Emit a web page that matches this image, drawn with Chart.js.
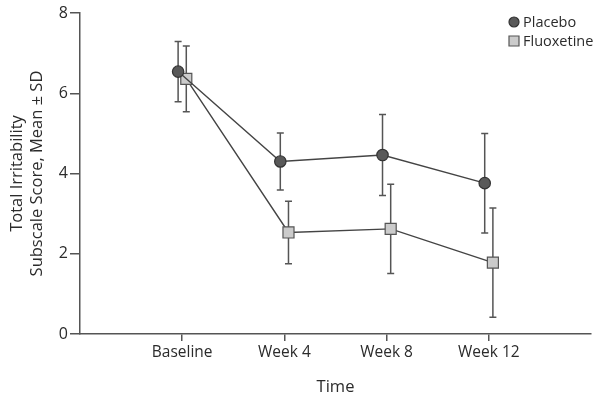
<!DOCTYPE html>
<html>
<head>
<meta charset="utf-8">
<script src="https://cdn.jsdelivr.net/npm/chart.js@4.4.0/dist/chart.umd.min.js"></script>
<style>
html,body{margin:0;padding:0;background:#fff;}
#wrap{width:600px;height:401px;position:relative;}
</style>
</head>
<body>
<div id="wrap"><canvas id="c"></canvas></div>
<script>
const categories = ['Baseline', 'Week 4', 'Week 8', 'Week 12'];
const placeboMean = [6.54, 4.30, 4.46, 3.76];
const placeboSD = [0.75, 0.71, 1.01, 1.24];
const fluoxetineMean = [6.36, 2.53, 2.62, 1.78];
const fluoxetineSD = [0.82, 0.78, 1.11, 1.36];
const yTicks = [0, 2, 4, 6, 8];
const seriesNames = ['Placebo', 'Fluoxetine'];

const FONT = '"Open Sans", "DejaVu Sans", sans-serif';
const TXT = '#2b2b2b';
const AX = '#555';
const SHIFT = 0.04;

function pts(means, dx) {
  return means.map((m, i) => ({ x: i + 1 + dx, y: m }));
}

const errorBars = {
  id: 'errorBars',
  beforeDatasetsDraw(chart) {
    const ctx = chart.ctx;
    const ys = chart.scales.y;
    chart.data.datasets.forEach((ds, di) => {
      const meta = chart.getDatasetMeta(di);
      ctx.save();
      ctx.strokeStyle = AX;
      ctx.lineWidth = 1.5;
      meta.data.forEach((el, i) => {
        const m = ds.data[i].y, s = ds.sd[i];
        const x = el.x;
        const yt = ys.getPixelForValue(m + s);
        const yb = ys.getPixelForValue(m - s);
        ctx.beginPath();
        ctx.moveTo(x, yt); ctx.lineTo(x, yb);
        ctx.moveTo(x - 3.5, yt); ctx.lineTo(x + 3.5, yt);
        ctx.moveTo(x - 3.5, yb); ctx.lineTo(x + 3.5, yb);
        ctx.stroke();
      });
      ctx.restore();
    });
  }
};

const customLegend = {
  id: 'customLegend',
  afterDraw(chart) {
    const ctx = chart.ctx;
    ctx.save();
    ctx.font = '14.5px ' + FONT;
    ctx.fillStyle = TXT;
    ctx.textBaseline = 'middle';
    ctx.textAlign = 'left';
    const rows = [22, 41];
    chart.data.datasets.forEach((ds, i) => {
      const y = rows[i], x = 514;
      ctx.beginPath();
      if (ds.pointStyle === 'circle') {
        ctx.arc(x, y, 5, 0, Math.PI * 2);
      } else {
        ctx.rect(x - 5, y - 5, 10, 10);
      }
      ctx.fillStyle = ds.pointBackgroundColor;
      ctx.fill();
      ctx.strokeStyle = ds.pointBorderColor;
      ctx.lineWidth = 1.2;
      ctx.stroke();
      ctx.fillStyle = TXT;
      ctx.fillText(ds.label, 523, y + 1);
    });
    ctx.restore();
  }
};

new Chart(document.getElementById('c'), {
  type: 'line',
  data: {
    datasets: [
      {
        label: seriesNames[0],
        data: pts(placeboMean, -SHIFT),
        sd: placeboSD,
        borderColor: '#444',
        borderWidth: 1.4,
        pointStyle: 'circle',
        pointRadius: 5.7,
        pointBackgroundColor: '#595959',
        pointBorderColor: '#333',
        pointBorderWidth: 1.2
      },
      {
        label: seriesNames[1],
        data: pts(fluoxetineMean, SHIFT),
        sd: fluoxetineSD,
        borderColor: '#444',
        borderWidth: 1.4,
        pointStyle: 'rect',
        pointRadius: 7.8,
        pointBackgroundColor: '#cbcbcb',
        pointBorderColor: '#555',
        pointBorderWidth: 1.2
      }
    ]
  },
  options: {
    responsive: true,
    maintainAspectRatio: false,
    animation: false,
    layout: { padding: { top: 13, right: 7, left: 0, bottom: 0 } },
    plugins: { legend: { display: false }, tooltip: { enabled: false } },
    scales: {
      x: {
        type: 'linear',
        min: 0, max: 5,
        afterBuildTicks: s => { s.ticks = categories.map((c, i) => ({ value: i + 1 })); },
        afterFit: s => { s.height = 67; },
        ticks: {
          callback: v => categories[v - 1] || '',
          font: { family: FONT, size: 15.5 },
          color: TXT,
          padding: 2,
          maxRotation: 0
        },
        grid: { display: true, drawOnChartArea: false, drawTicks: true, tickLength: 7, color: AX, lineWidth: 1.5 },
        border: { display: true, color: AX, width: 1.5 },
        title: {
          display: true, text: 'Time', color: TXT,
          font: { family: FONT, size: 16.5, lineHeight: 1.2 },
          padding: { top: 0, bottom: 4 }
        }
      },
      y: {
        type: 'linear',
        min: 0, max: 8,
        afterBuildTicks: s => { s.ticks = yTicks.map(v => ({ value: v })); },
        afterFit: s => { s.width = 80; },
        ticks: {
          font: { family: FONT, size: 16 },
          color: TXT,
          padding: 2
        },
        grid: { display: true, drawOnChartArea: false, drawTicks: true, tickLength: 10, color: AX, lineWidth: 1.5 },
        border: { display: true, color: AX, width: 1.5 },
        title: {
          display: true,
          text: ['Total Irritability', 'Subscale Score, Mean \u00B1 SD'],
          color: TXT,
          font: { family: FONT, size: 16.5, lineHeight: 1.21 },
          padding: { top: 7, bottom: 0 }
        }
      }
    }
  },
  plugins: [errorBars, customLegend]
});
</script>
</body>
</html>
